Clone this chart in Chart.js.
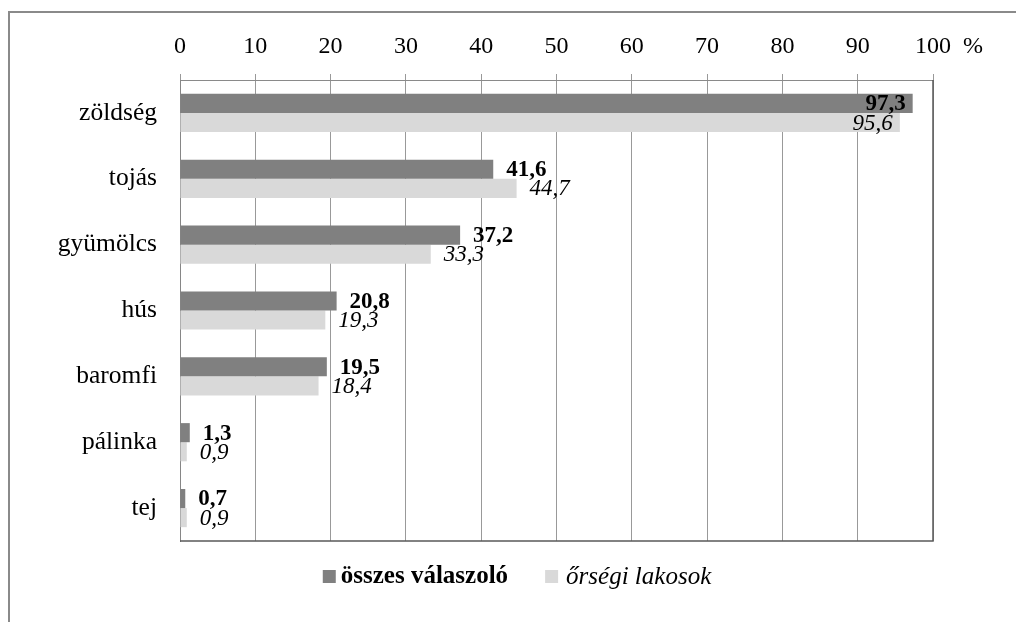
<!DOCTYPE html>
<html lang="hu">
<head>
    <meta charset="UTF-8">
    <title>Termékek</title>
    <style>
        body { margin: 0; background: #fff; }
        #wrap { width: 1016px; height: 622px; position: relative; }
    </style>
</head>
<body>
    <div id="wrap"><canvas id="chart"></canvas></div>

    <script src="https://cdn.jsdelivr.net/npm/chart.js"></script>
    <script>
        const categories = ['zöldség', 'tojás', 'gyümölcs', 'hús', 'baromfi', 'pálinka', 'tej'];
        const osszesValues = [97.3, 41.6, 37.2, 20.8, 19.5, 1.3, 0.7];
        const orsegiValues = [95.6, 44.7, 33.3, 19.3, 18.4, 0.9, 0.9];
        const seriesNames = ['összes válaszoló', 'őrségi lakosok'];
        const tickUnit = '%';

        const serif = '"Liberation Serif", "DejaVu Serif", serif';
        const fmt = v => v.toFixed(1).replace('.', ',');

        // frame, value labels, % sign and legend
        const extras = {
            id: 'extras',
            beforeDraw(chart) {
                const ctx = chart.ctx;
                ctx.save();
                ctx.fillStyle = '#fff';
                ctx.fillRect(0, 0, chart.width, chart.height);
                ctx.strokeStyle = '#8a8a8a';
                ctx.lineWidth = 2;
                ctx.strokeRect(9, 12, chart.width + 20, chart.height + 20);
                ctx.restore();
            },
            afterDraw(chart) {
                const ctx = chart.ctx;
                const area = chart.chartArea;
                ctx.save();

                // right and bottom edges of the plot
                ctx.strokeStyle = '#595959';
                ctx.lineWidth = 1.5;
                ctx.beginPath();
                ctx.moveTo(area.right, area.top);
                ctx.lineTo(area.right, area.bottom);
                ctx.lineTo(area.left, area.bottom);
                ctx.stroke();

                // value labels
                ctx.fillStyle = '#000';
                ctx.textBaseline = 'middle';
                chart.data.datasets.forEach((ds, i) => {
                    const meta = chart.getDatasetMeta(i);
                    ctx.font = (i === 0 ? 'bold ' : 'italic ') + '23px ' + serif;
                    meta.data.forEach((bar, j) => {
                        const v = ds.data[j];
                        if (v > 90) {
                            ctx.textAlign = 'right';
                            ctx.fillText(fmt(v), bar.x - 7, bar.y + 1);
                        } else {
                            ctx.textAlign = 'left';
                            ctx.fillText(fmt(v), bar.x + 13, bar.y + 1);
                        }
                    });
                });

                // unit after last tick
                const xs = chart.scales.x;
                ctx.font = '24px ' + serif;
                ctx.textAlign = 'left';
                ctx.fillText(tickUnit, xs.getPixelForValue(100) + 30, 47);

                // legend
                const boxSize = 13;
                ctx.font = 'bold 25px ' + serif;
                const w0 = ctx.measureText(seriesNames[0]).width;
                ctx.font = 'italic 25px ' + serif;
                const w1 = ctx.measureText(seriesNames[1]).width;
                const total = boxSize + 5 + w0 + 37 + boxSize + 8 + w1;
                let x = 517 - total / 2;
                const y = 577;
                ctx.fillStyle = chart.data.datasets[0].backgroundColor;
                ctx.fillRect(x, y - 7, boxSize, boxSize);
                x += boxSize + 5;
                ctx.fillStyle = '#000';
                ctx.font = 'bold 25px ' + serif;
                ctx.fillText(seriesNames[0], x, y);
                x += w0 + 37;
                ctx.fillStyle = chart.data.datasets[1].backgroundColor;
                ctx.fillRect(x, y - 7, boxSize, boxSize);
                x += boxSize + 8;
                ctx.fillStyle = '#000';
                ctx.font = 'italic 25px ' + serif;
                ctx.fillText(seriesNames[1], x, y);

                ctx.restore();
            }
        };

        function draw() {
            new Chart(document.getElementById('chart'), {
                type: 'bar',
                data: {
                    labels: categories,
                    datasets: [
                        { label: seriesNames[0], data: osszesValues, backgroundColor: '#808080' },
                        { label: seriesNames[1], data: orsegiValues, backgroundColor: '#d9d9d9' }
                    ]
                },
                options: {
                    indexAxis: 'y',
                    responsive: true,
                    maintainAspectRatio: false,
                    animation: false,
                    layout: { padding: { left: 0, top: 0, right: 83, bottom: 81 } },
                    datasets: { bar: { categoryPercentage: 0.58, barPercentage: 1.0 } },
                    plugins: {
                        legend: { display: false },
                        tooltip: { enabled: false }
                    },
                    scales: {
                        x: {
                            position: 'top',
                            min: 0,
                            max: 100,
                            ticks: { stepSize: 10, color: '#000', padding: 13, font: { family: serif, size: 24 } },
                            grid: { color: '#999', tickLength: 6, tickColor: '#999' },
                            border: { color: '#8a8a8a' },
                            afterFit(scale) { scale.height = 80; }
                        },
                        y: {
                            ticks: { color: '#000', padding: 23, font: { family: serif, size: 25.5 } },
                            grid: { display: false, drawTicks: false },
                            border: { color: '#868686' },
                            afterFit(scale) { scale.width = 180; }
                        }
                    }
                },
                plugins: [extras]
            });
        }

        Promise.all([
            document.fonts.load('22px "Liberation Serif"'),
            document.fonts.load('bold 22px "Liberation Serif"'),
            document.fonts.load('italic 22px "Liberation Serif"')
        ]).then(draw, draw);
    </script>
</body>
</html>
